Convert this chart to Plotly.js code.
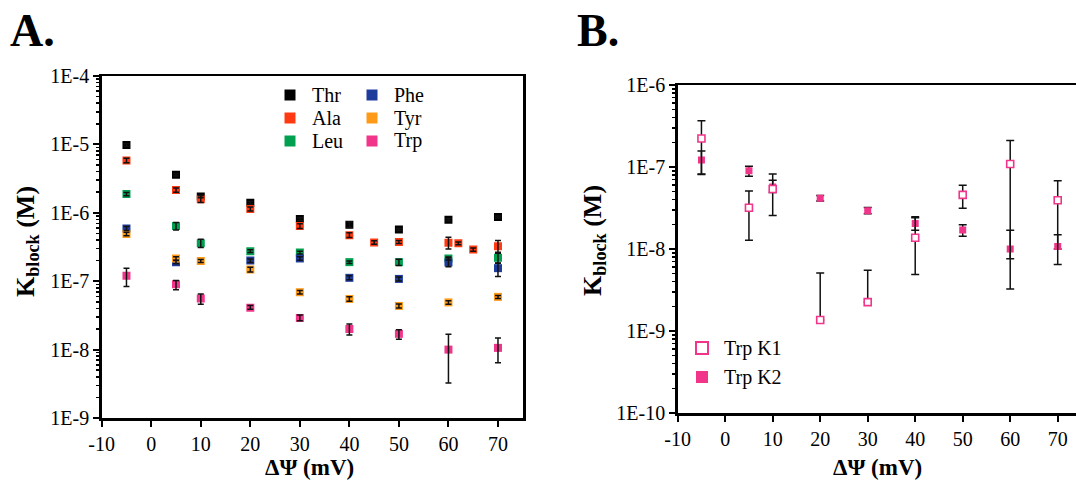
<!DOCTYPE html>
<html>
<head>
<meta charset="utf-8">
<script src="https://cdn.plot.ly/plotly-3.0.1.min.js"></script>
<style>html,body{margin:0;padding:0;background:#fff}#chart{width:1076px;height:480px}</style>
</head>
<body>
<div id="chart"></div>
<script>
// ---------- Panel A data ----------
const thrX = [-5, 5, 10, 20, 30, 40, 50, 60, 70];
const thrY = [9.8e-6, 3.6e-6, 1.73e-6, 1.4e-6, 8.1e-7, 6.7e-7, 5.7e-7, 7.9e-7, 8.7e-7];
const thrHi = [1.02e-5, 3.75e-6, 1.8e-6, 1.46e-6, 8.5e-7, 7.4e-7, 5.9e-7, 8.2e-7, 9.0e-7];
const thrLo = [9.4e-6, 3.45e-6, 1.66e-6, 1.34e-6, 7.7e-7, 6.1e-7, 5.5e-7, 7.6e-7, 8.4e-7];

const alaX = [-5, 5, 10, 20, 30, 40, 45, 50, 60, 62, 65, 70];
const alaY = [5.8e-6, 2.15e-6, 1.58e-6, 1.14e-6, 6.4e-7, 4.7e-7, 3.68e-7, 3.75e-7, 3.65e-7, 3.58e-7, 2.9e-7, 3.25e-7];
const alaHi = [6.3e-6, 2.3e-6, 1.78e-6, 1.22e-6, 6.9e-7, 5.1e-7, 3.9e-7, 3.95e-7, 4.4e-7, 3.75e-7, 3.05e-7, 3.95e-7];
const alaLo = [5.4e-6, 2.0e-6, 1.42e-6, 1.06e-6, 5.9e-7, 4.35e-7, 3.46e-7, 3.55e-7, 2.95e-7, 3.4e-7, 2.75e-7, 2.66e-7];

const leuX = [-5, 5, 10, 20, 30, 40, 50, 60, 70];
const leuY = [1.88e-6, 6.4e-7, 3.6e-7, 2.75e-7, 2.62e-7, 1.9e-7, 1.9e-7, 2.15e-7, 2.2e-7];
const leuHi = [1.98e-6, 7.2e-7, 4.1e-7, 2.88e-7, 2.75e-7, 1.98e-7, 2.1e-7, 2.25e-7, 2.57e-7];
const leuLo = [1.78e-6, 5.6e-7, 3.1e-7, 2.62e-7, 2.5e-7, 1.82e-7, 1.7e-7, 2.05e-7, 1.83e-7];

const pheX = [-5, 5, 20, 30, 40, 50, 60, 70];
const pheY = [5.9e-7, 1.9e-7, 2.0e-7, 2.15e-7, 1.12e-7, 1.08e-7, 1.88e-7, 1.55e-7];
const pheHi = [6.3e-7, 2.0e-7, 2.12e-7, 2.28e-7, 1.2e-7, 1.15e-7, 2.2e-7, 1.85e-7];
const pheLo = [5.5e-7, 1.8e-7, 1.88e-7, 2.02e-7, 1.05e-7, 1.01e-7, 1.62e-7, 1.17e-7];

const tyrX = [-5, 5, 10, 20, 30, 40, 50, 60, 70];
const tyrY = [4.9e-7, 2.15e-7, 1.98e-7, 1.48e-7, 6.9e-8, 5.5e-8, 4.35e-8, 4.9e-8, 5.9e-8];
const tyrHi = [5.2e-7, 2.28e-7, 2.08e-7, 1.6e-7, 7.3e-8, 5.9e-8, 4.65e-8, 5.2e-8, 6.2e-8];
const tyrLo = [4.6e-7, 2.02e-7, 1.88e-7, 1.36e-7, 6.5e-8, 5.1e-8, 4.05e-8, 4.6e-8, 5.6e-8];

const trpX = [-5, 5, 10, 20, 30, 40, 50, 60, 70];
const trpY = [1.2e-7, 9.0e-8, 5.6e-8, 4.1e-8, 2.9e-8, 2.0e-8, 1.7e-8, 1.0e-8, 1.06e-8];
const trpHi = [1.55e-7, 1.02e-7, 6.5e-8, 4.4e-8, 3.2e-8, 2.37e-8, 1.95e-8, 1.68e-8, 1.48e-8];
const trpLo = [8.4e-8, 7.5e-8, 4.6e-8, 3.9e-8, 2.65e-8, 1.64e-8, 1.42e-8, 3.25e-9, 6.4e-9];

// ---------- Panel B data ----------
const k1X = [-5, 5, 10, 20, 30, 40, 50, 60, 70];
const k1Y = [2.23e-7, 3.18e-8, 5.4e-8, 1.36e-9, 2.25e-9, 1.37e-8, 4.57e-8, 1.09e-7, 3.93e-8];
const k1Hi = [3.66e-7, 5.1e-8, 8.2e-8, 5.1e-9, 5.5e-9, 2.4e-8, 6.0e-8, 2.1e-7, 6.8e-8];
const k1Lo = [8.1e-8, 1.28e-8, 2.56e-8, 1.36e-9, 2.25e-9, 4.9e-9, 3.15e-8, 3.26e-9, 6.45e-9];

const k2X = [-5, 5, 10, 20, 30, 40, 50, 60, 70];
const k2Y = [1.22e-7, 9.0e-8, 5.7e-8, 4.15e-8, 2.92e-8, 2.04e-8, 1.7e-8, 1.0e-8, 1.07e-8];
const k2Hi = [1.57e-7, 1.02e-7, 6.9e-8, 4.5e-8, 3.2e-8, 2.47e-8, 1.98e-8, 1.69e-8, 1.49e-8];
const k2Lo = [8.2e-8, 7.7e-8, 4.9e-8, 3.85e-8, 2.7e-8, 1.69e-8, 1.43e-8, 7.6e-9, 1.0e-8];

const tickValsA = [1e-9, 1e-8, 1e-7, 1e-6, 1e-5, 1e-4];
const tickTextA = ['1E-9', '1E-8', '1E-7', '1E-6', '1E-5', '1E-4'];
const tickValsB = [1e-10, 1e-9, 1e-8, 1e-7, 1e-6];
const tickTextB = ['1E-10', '1E-9', '1E-8', '1E-7', '1E-6'];
const xTickVals = [-10, 0, 10, 20, 30, 40, 50, 60, 70];
const xTickText = ['-10', '0', '10', '20', '30', '40', '50', '60', '70'];

const FONT = '"Liberation Serif", "Times New Roman", serif';
const W = 1076, H = 480;
const TRP = '#f0358a';

function errs(y, hi, lo) {
  return {
    type: 'data', symmetric: false,
    array: hi.map((h, i) => h - y[i]),
    arrayminus: lo.map((l, i) => y[i] - l),
    color: '#111', thickness: 1.5, width: 3
  };
}

const seriesA = [
  {name: 'Thr', x: thrX, y: thrY, hi: thrHi, lo: thrLo, color: '#000000'},
  {name: 'Ala', x: alaX, y: alaY, hi: alaHi, lo: alaLo, color: '#ff3a12'},
  {name: 'Leu', x: leuX, y: leuY, hi: leuHi, lo: leuLo, color: '#00a050'},
  {name: 'Phe', x: pheX, y: pheY, hi: pheHi, lo: pheLo, color: '#1e3c9c'},
  {name: 'Tyr', x: tyrX, y: tyrY, hi: tyrHi, lo: tyrLo, color: '#ff9a18'},
  {name: 'Trp', x: trpX, y: trpY, hi: trpHi, lo: trpLo, color: TRP}
];

const traces = [];
seriesA.forEach(s => {
  traces.push({
    type: 'scatter', mode: 'markers', name: s.name, x: s.x, y: s.y,
    xaxis: 'x', yaxis: 'y', showlegend: false,
    marker: {symbol: 'square', size: 8, color: s.color, line: {width: 0}}
  });
});
// error bars on top of the markers (A)
seriesA.forEach(s => {
  traces.push({
    type: 'scatter', mode: 'markers', x: s.x, y: s.y, showlegend: false, hoverinfo: 'skip',
    xaxis: 'x', yaxis: 'y',
    marker: {size: 1, opacity: 0},
    error_y: errs(s.y, s.hi, s.lo)
  });
});
// Panel B
traces.push({
  type: 'scatter', mode: 'markers', name: 'Trp K2', x: k2X, y: k2Y,
  xaxis: 'x2', yaxis: 'y2', showlegend: false,
  marker: {symbol: 'square', size: 7, color: TRP, line: {width: 0}},
  error_y: Object.assign(errs(k2Y, k2Hi, k2Lo), {width: 4})
});
traces.push({
  type: 'scatter', mode: 'markers', name: 'Trp K1', x: k1X, y: k1Y,
  xaxis: 'x2', yaxis: 'y2', showlegend: false,
  marker: {symbol: 'square', size: 7, color: '#ffffff', line: {width: 1.6, color: TRP}},
  error_y: Object.assign(errs(k1Y, k1Hi, k1Lo), {width: 4})
});

const axisCommon = {
  showline: true, linecolor: '#000', linewidth: 2.5,
  ticks: 'outside', tickcolor: '#000', tickwidth: 2, ticklen: 6,
  showgrid: false, zeroline: false,
  tickfont: {family: FONT, size: 20, color: '#000'}
};
const minorLog = {ticks: 'outside', ticklen: 3.5, tickwidth: 1.5, tickcolor: '#000', dtick: 'D1', showgrid: false};

const xA = Object.assign({}, axisCommon, {
  domain: [101.7 / W, 523 / W], range: [-10, 75.05],
  tickvals: xTickVals, ticktext: xTickText, mirror: true, anchor: 'y'
});
const yA = Object.assign({}, axisCommon, {
  domain: [62 / H, 404 / H], type: 'log', range: [-9, -4],
  tickvals: tickValsA, ticktext: tickTextA, mirror: true, anchor: 'x', minor: minorLog
});
const xB = Object.assign({}, axisCommon, {
  domain: [677.7 / W, 1], range: [-10, 73.85],
  tickvals: xTickVals, ticktext: xTickText, mirror: true, anchor: 'y2'
});
const yB = Object.assign({}, axisCommon, {
  domain: [67 / H, 395 / H], type: 'log', range: [-10, -6],
  tickvals: tickValsB, ticktext: tickTextB, mirror: false, anchor: 'x2', minor: minorLog
});

// ---------- manual legends (positions in pixels) ----------
const legendItems = [
  {label: 'Thr', color: '#000000', cx: 290, cy: 95, size: 11},
  {label: 'Ala', color: '#ff3a12', cx: 290, cy: 118, size: 11},
  {label: 'Leu', color: '#00a050', cx: 290, cy: 141, size: 11},
  {label: 'Phe', color: '#1e3c9c', cx: 372, cy: 95, size: 11},
  {label: 'Tyr', color: '#ff9a18', cx: 372, cy: 118, size: 11},
  {label: 'Trp', color: TRP, cx: 372, cy: 141, size: 11},
  {label: 'Trp K1', color: '#ffffff', line: TRP, cx: 702, cy: 348, size: 12},
  {label: 'Trp K2', color: TRP, cx: 702, cy: 377, size: 12}
];
const shapes = legendItems.map(it => ({
  type: 'rect', xref: 'paper', yref: 'paper',
  x0: (it.cx - it.size / 2) / W, x1: (it.cx + it.size / 2) / W,
  y0: 1 - (it.cy + it.size / 2) / H, y1: 1 - (it.cy - it.size / 2) / H,
  fillcolor: it.color,
  line: it.line ? {color: it.line, width: 2} : {width: 0}
}));
const legendAnn = legendItems.map(it => ({
  text: it.label, xref: 'paper', yref: 'paper',
  x: (it.cx + 20) / W, y: 1 - it.cy / H, xanchor: 'left', yanchor: 'middle',
  showarrow: false, font: {family: FONT, size: 20, color: '#000'}
}));

const layout = {
  width: W, height: H,
  margin: {l: 0, r: 0, t: 0, b: 0},
  paper_bgcolor: '#fff', plot_bgcolor: '#fff',
  font: {family: FONT, color: '#000'},
  showlegend: false,
  xaxis: xA, yaxis: yA, xaxis2: xB, yaxis2: yB,
  shapes: shapes,
  annotations: legendAnn.concat([
    {text: '<b>A.</b>', x: 8 / W, y: 1 - 30 / H, xref: 'paper', yref: 'paper', xanchor: 'left', yanchor: 'middle', showarrow: false, font: {family: FONT, size: 46, color: '#000'}},
    {text: '<b>B.</b>', x: 575 / W, y: 1 - 30 / H, xref: 'paper', yref: 'paper', xanchor: 'left', yanchor: 'middle', showarrow: false, font: {family: FONT, size: 46, color: '#000'}},
    {text: '<b>K<sub>block</sub> (M)</b>', x: 27 / W, y: 1 - 242 / H, xref: 'paper', yref: 'paper', xanchor: 'center', yanchor: 'middle', textangle: -90, showarrow: false, font: {family: FONT, size: 26, color: '#000'}},
    {text: '<b>K<sub>block</sub> (M)</b>', x: 594 / W, y: 1 - 240 / H, xref: 'paper', yref: 'paper', xanchor: 'center', yanchor: 'middle', textangle: -90, showarrow: false, font: {family: FONT, size: 26, color: '#000'}},
    {text: '<b>ΔΨ (mV)</b>', x: 309 / W, y: 1 - 467 / H, xref: 'paper', yref: 'paper', xanchor: 'center', yanchor: 'middle', showarrow: false, font: {family: FONT, size: 23, color: '#000'}},
    {text: '<b>ΔΨ (mV)</b>', x: 877 / W, y: 1 - 467 / H, xref: 'paper', yref: 'paper', xanchor: 'center', yanchor: 'middle', showarrow: false, font: {family: FONT, size: 23, color: '#000'}}
  ])
};

Plotly.newPlot('chart', traces, layout, {staticPlot: true, displayModeBar: false});
</script>
</body>
</html>
